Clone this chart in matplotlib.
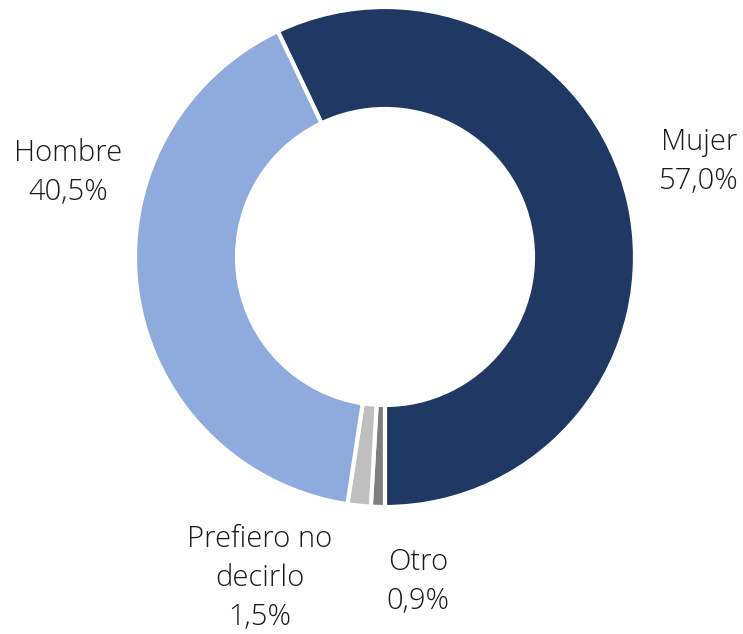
import matplotlib.pyplot as plt

# Distribución por género
labels = ['Mujer', 'Otro', 'Prefiero no\ndecirlo', 'Hombre']
values = [57.0, 0.9, 1.5, 40.5]
value_labels = ['57,0%', '0,9%', '1,5%', '40,5%']
colors = ['#203864', '#7f7f7f', '#bfbfbf', '#8faadc']

# label anchor points (pixel coords of the original chart, y down)
label_pos = [(699, 162), (418, 582), (260, 578), (68, 173)]

W, H = 743, 634
fig = plt.figure(figsize=(W / 100, H / 100), dpi=100)
ax = fig.add_axes([0, 0, 1, 1])

ax.pie(values, colors=colors, startangle=115.4, counterclock=False,
       center=(385, H - 257), radius=250,
       wedgeprops=dict(width=102, edgecolor='white', linewidth=3))

# pie() resets the limits, so set them afterwards
ax.set_xlim(0, W)
ax.set_ylim(0, H)
ax.set_aspect('equal')
ax.axis('off')

for lab, val, (x, y) in zip(labels, value_labels, label_pos):
    ax.text(x, H - y, lab + '\n' + val, ha='center', va='center',
            fontsize=21, family='Open Sans', fontweight='light',
            color='#1a1a1a', linespacing=1.42)

fig.savefig('out.png', dpi=100)
